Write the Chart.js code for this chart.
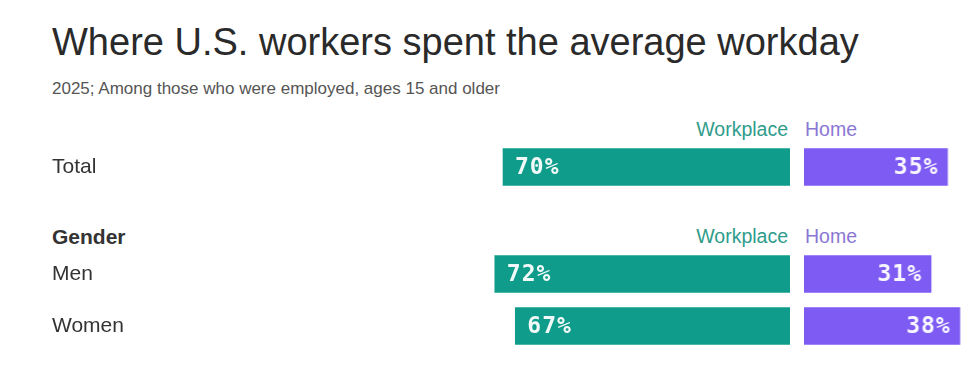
<!DOCTYPE html>
<html>
<head>
<meta charset="utf-8">
<script src="https://cdn.jsdelivr.net/npm/chart.js@4.4.1/dist/chart.umd.min.js"></script>
<style>
  body { margin: 0; background: #fff; width: 980px; height: 380px; overflow: hidden; position: relative;
         font-family: "Liberation Sans", Arial, sans-serif; }
  .abs { position: absolute; white-space: nowrap; line-height: 1; }
  #title { left: 52px; top: 23px; font-size: 38px; color: #2a2a2a; }
  #sub { left: 52px; top: 80px; font-size: 17px; color: #555; }
  .clip { position: absolute; overflow: hidden; }
  canvas { position: absolute; left: 0; top: 0; }
</style>
</head>
<body>
<div id="title" class="abs">Where U.S. workers spent the average workday</div>
<div id="sub" class="abs">2025; Among those who were employed, ages 15 and older</div>
<script>
const rowLabels = ['Total', 'Men', 'Women'];
const rowGroups = ['', 'Gender', 'Gender'];
const workplace = [70, 72, 67];
const home = [35, 31, 38];
const seriesNames = ['Workplace', 'Home'];
const seriesColors = ['#0f9c8a', '#7e5bf3'];
const headerColors = ['#2f9c8b', '#8a77d3'];

const FONT = '"Liberation Sans", Arial, sans-serif';
const ROW = 52;      // height of one row
const PX = 4.1;      // pixels per percent
const SPLIT = 790;   // where workplace bars end
const HOME_X = 804;  // where home bars start

// value labels inside the bars
const valueLabels = {
  id: 'valueLabels',
  afterDatasetsDraw(chart, args, opts) {
    const ctx = chart.ctx;
    const meta = chart.getDatasetMeta(0);
    const vals = chart.data.datasets[0].data;
    ctx.save();
    ctx.font = 'bold 23px "DejaVu Sans Mono", monospace';
    ctx.letterSpacing = '1px';
    ctx.fillStyle = 'rgba(255,255,255,0.95)';
    ctx.textBaseline = 'middle';
    meta.data.forEach((bar, i) => {
      const x0 = Math.min(bar.x, bar.base), x1 = Math.max(bar.x, bar.base);
      if (opts.side === 'start') {
        ctx.textAlign = 'left';
        ctx.fillText(vals[i] + '%', x0 + 12, bar.y + 1);
      } else {
        ctx.textAlign = 'right';
        ctx.fillText(vals[i] + '%', x1 - 9, bar.y + 1);
      }
    });
    ctx.restore();
  }
};

function addDiv(text, css) {
  const d = document.createElement('div');
  d.className = 'abs';
  d.textContent = text;
  Object.assign(d.style, css);
  document.body.appendChild(d);
  return d;
}

function addCanvas(left, top, w, h, clipW) {
  const wrap = document.createElement('div');
  wrap.className = 'clip';
  Object.assign(wrap.style, { left: left + 'px', top: top + 'px', width: clipW + 'px', height: h + 'px' });
  const c = document.createElement('canvas');
  c.width = w; c.height = h;
  c.style.width = w + 'px'; c.style.height = h + 'px';
  wrap.appendChild(c);
  document.body.appendChild(wrap);
  return c;
}

// group consecutive rows into sections
const sections = [];
rowLabels.forEach((lab, i) => {
  const last = sections[sections.length - 1];
  if (last && last.group === rowGroups[i]) last.rows.push(i);
  else sections.push({ group: rowGroups[i], rows: [i] });
});

let y = 130;
sections.forEach(sec => {
  const fs = 19.5;
  if (sec.group) {
    addDiv(sec.group, { left: '52px', top: (y - 11) + 'px', fontSize: '21px', fontWeight: 'bold', color: '#333' });
  }
  addDiv(seriesNames[0], { right: (980 - SPLIT + 2) + 'px', top: (y - fs / 2) + 'px', fontSize: fs + 'px', color: headerColors[0] });
  addDiv(seriesNames[1], { left: (HOME_X + 1) + 'px', top: (y - fs / 2) + 'px', fontSize: fs + 'px', color: headerColors[1] });

  const top = y + 11;
  const h = ROW * sec.rows.length;
  const labels = sec.rows.map(i => rowLabels[i]);

  const cL = addCanvas(0, top, SPLIT, h, SPLIT);
  new Chart(cL, {
    type: 'bar',
    data: {
      labels: labels,
      datasets: [{ label: seriesNames[0], data: sec.rows.map(i => workplace[i]), backgroundColor: seriesColors[0], barThickness: 37 }]
    },
    options: {
      indexAxis: 'y', responsive: false, animation: false, events: [],
      layout: { padding: { left: 52 } },
      plugins: { legend: { display: false }, tooltip: { enabled: false }, valueLabels: { side: 'start' } },
      scales: {
        x: { type: 'linear', reverse: true, min: 0, max: 100, display: false },
        y: {
          grid: { display: false }, border: { display: false },
          ticks: { color: '#333', font: { family: FONT, size: 21 }, crossAlign: 'far', padding: 0 },
          afterFit(s) { s.width = SPLIT - 52 - 100 * PX; s.paddingTop = 0; s.paddingBottom = 0; }
        }
      }
    },
    plugins: [valueLabels]
  });

  const cR = addCanvas(HOME_X, top, 100 * PX, h, 980 - HOME_X);
  new Chart(cR, {
    type: 'bar',
    data: {
      labels: labels,
      datasets: [{ label: seriesNames[1], data: sec.rows.map(i => home[i]), backgroundColor: seriesColors[1], barThickness: 37 }]
    },
    options: {
      indexAxis: 'y', responsive: false, animation: false, events: [],
      plugins: { legend: { display: false }, tooltip: { enabled: false }, valueLabels: { side: 'end' } },
      scales: {
        x: { type: 'linear', min: 0, max: 100, display: false },
        y: { display: false }
      }
    },
    plugins: [valueLabels]
  });

  y = top + h + 44;
});
</script>
</body>
</html>
